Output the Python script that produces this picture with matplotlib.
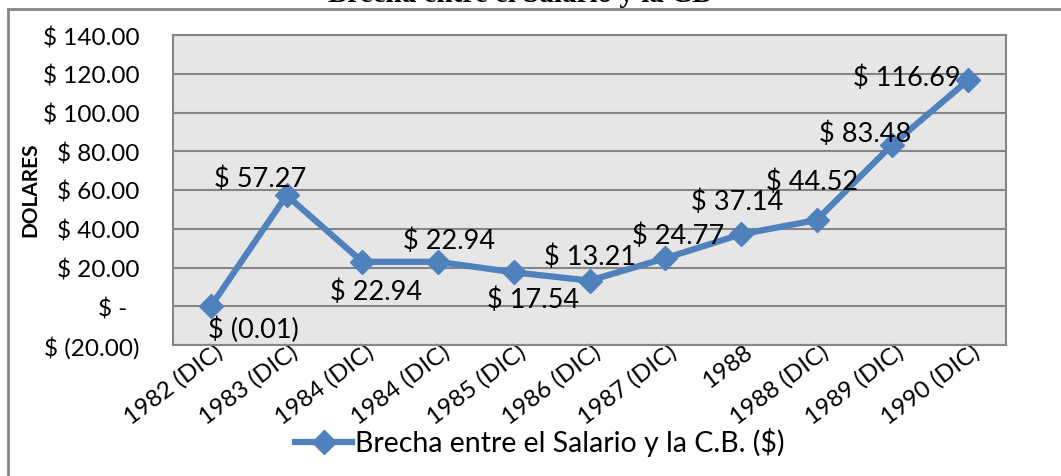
import matplotlib.pyplot as plt
import matplotlib.transforms as mtransforms
from matplotlib.lines import Line2D

# datos
categorias = ['1982 (DIC)', '1983 (DIC)', '1984 (DIC)', '1984 (DIC)', '1985 (DIC)',
              '1986 (DIC)', '1987 (DIC)', '1988', '1988 (DIC)', '1989 (DIC)', '1990 (DIC)']
brecha = [-0.01, 57.27, 22.94, 22.94, 17.54, 13.21, 24.77, 37.14, 44.52, 83.48, 116.69]
etiquetas = ['$ (0.01)', '$ 57.27', '$ 22.94', '$ 22.94', '$ 17.54', '$ 13.21',
             '$ 24.77', '$ 37.14', '$ 44.52', '$ 83.48', '$ 116.69']
y_ticks = [-20, 0, 20, 40, 60, 80, 100, 120, 140]
y_tick_labels = ['$ (20.00)', '$ -  ', '$ 20.00', '$ 40.00', '$ 60.00', '$ 80.00',
                 '$ 100.00', '$ 120.00', '$ 140.00']

# desplazamientos de las etiquetas (pixeles)
offsets = [(43, -23), (-26, 17), (14, -29), (11, 22), (19, -27), (1, 24),
           (13, 23), (-4, 33), (-5, 39), (-27, 11), (-61, 3)]

plt.rcParams['font.family'] = ['Lato', 'DejaVu Sans']
azul = '#4F81BD'
gris = '#868686'

fig = plt.figure(figsize=(10.61, 4.77), dpi=100)
ax = fig.add_axes([173/1061, 1-346/477, (1006-173)/1061, 310/477])
ax.set_facecolor('#E6E6E6')

x = list(range(len(categorias)))
ax.plot(x, brecha, color=azul, lw=4.5, marker='D', markersize=12, zorder=3)

for i in x:
    dx, dy = offsets[i]
    ax.annotate(etiquetas[i], (x[i], brecha[i]), xytext=(dx*0.72, dy*0.72),
                textcoords='offset points', ha='center', va='center', fontsize=19.5, zorder=4)

ax.set_xlim(-0.5, len(categorias)-0.5)
ax.set_ylim(-20, 140)
ax.set_yticks(y_ticks)
ax.set_yticklabels(y_tick_labels, fontsize=17.5)
ax.set_xticks(x)
ax.set_xticklabels(categorias, fontsize=17.5, rotation=37, ha='right', va='center',
                   rotation_mode='anchor')
ax.tick_params(length=0, pad=24)
ax.tick_params(axis='x', pad=0)
shift = mtransforms.ScaledTranslation(9/100, -4/100, fig.dpi_scale_trans)
for lbl in ax.get_xticklabels():
    lbl.set_transform(lbl.get_transform() + shift)
ax.grid(axis='y', color=gris, lw=1.5)
ax.set_axisbelow(True)
for s in ax.spines.values():
    s.set_color(gris)
    s.set_linewidth(1.5)

fig.text(30/1061, 1-190/477, 'DOLARES', rotation=90, fontsize=15, fontweight='bold',
         ha='center', va='center')

fig.text(520/1061, 1-2/477, 'Brecha entre el Salario y la CB', fontsize=21, fontweight='bold',
         family='Liberation Serif', ha='center', va='baseline')

# borde del grafico
fig.add_artist(Line2D([8/1061, 8/1061], [0, 1-10/477], color=gris, lw=2))
fig.add_artist(Line2D([8/1061, 1], [1-10/477, 1-10/477], color=gris, lw=2))

handle = Line2D([], [], color=azul, lw=4.5, marker='D', markersize=12)
fig.legend([handle], ['Brecha entre el Salario y la C.B. ($)'], loc='center',
           bbox_to_anchor=(540/1061, 1-443/477), frameon=False, fontsize=20.5,
           handlelength=2.0, handletextpad=0.1)

fig.savefig('out.png', dpi=100)
